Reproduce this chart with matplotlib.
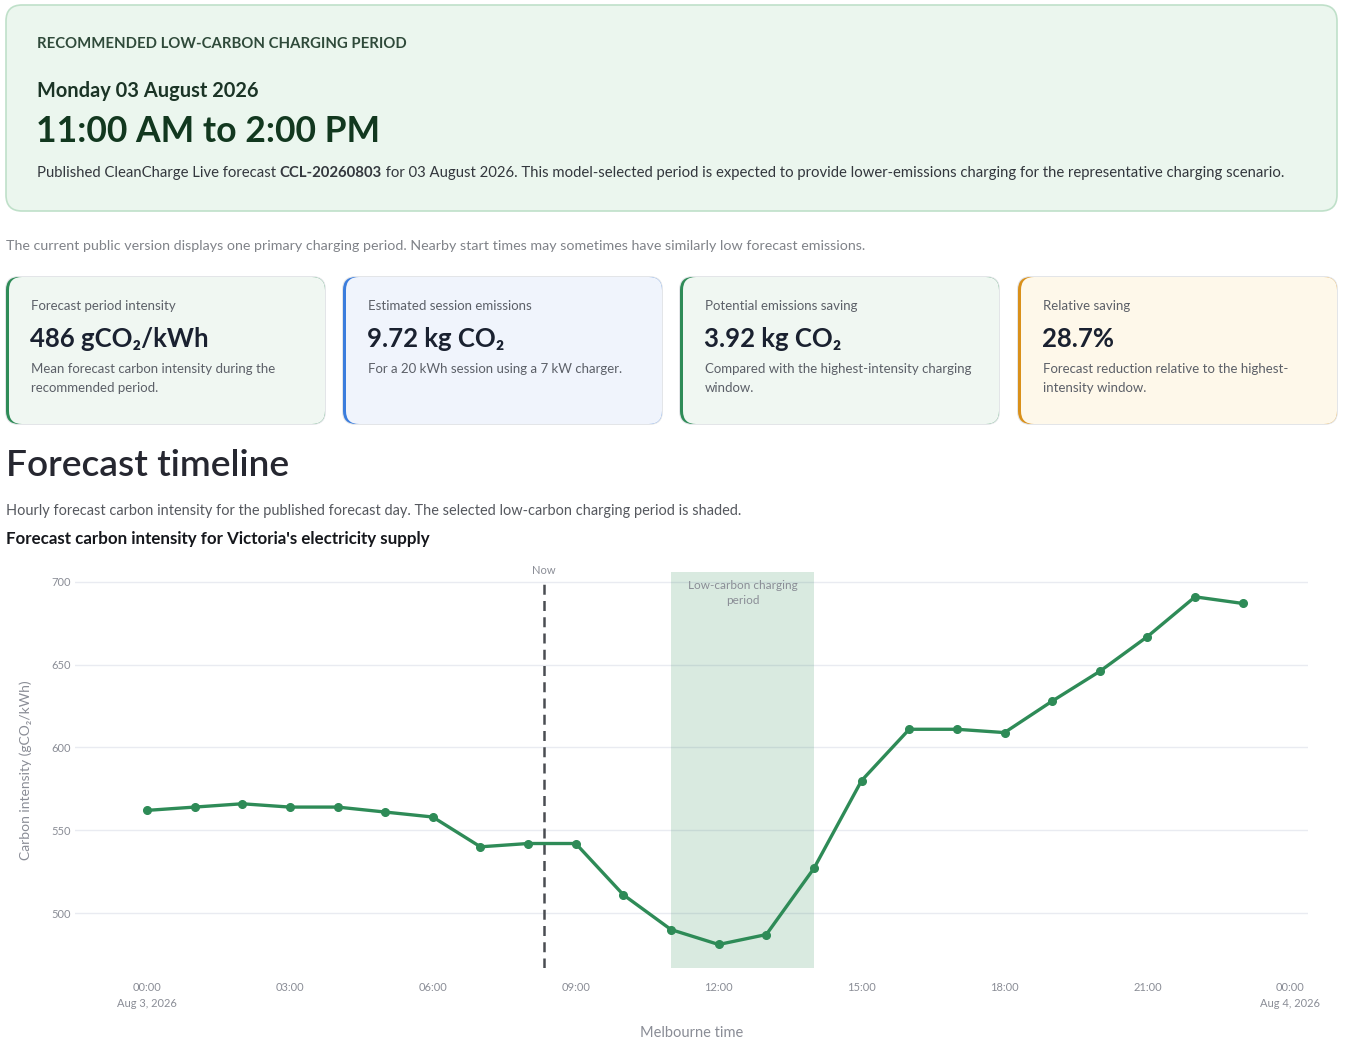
import matplotlib
matplotlib.use("Agg")
import matplotlib.pyplot as plt
from matplotlib.patches import FancyBboxPatch

plt.rcParams['font.family'] = ['Lato', 'DejaVu Sans']

# forecast data (hourly, 03 Aug 2026)
hours = list(range(24))
intensity = [562, 564, 566, 564, 564, 561, 558, 540, 542, 542, 511, 490,
             481, 487, 527, 580, 611, 611, 609, 628, 646, 667, 691, 687]
window_start, window_end = 11, 14
now_hour = 8 + 20 / 60

tick_hours = [0, 3, 6, 9, 12, 15, 18, 21, 24]
tick_labels = ["00:00\nAug 3, 2026", "03:00", "06:00", "09:00", "12:00",
               "15:00", "18:00", "21:00", "00:00\nAug 4, 2026"]
y_ticks = [500, 550, 600, 650, 700]

card_labels = ["Forecast period intensity", "Estimated session emissions",
               "Potential emissions saving", "Relative saving"]
card_values = ["486 gCO₂/kWh", "9.72 kg CO₂", "3.92 kg CO₂", "28.7%"]
card_notes = ["Mean forecast carbon intensity during the\nrecommended period.",
              "For a 20 kWh session using a 7 kW charger.",
              "Compared with the highest-intensity charging\nwindow.",
              "Forecast reduction relative to the highest-\nintensity window."]
card_accent = ["#2e8b57", "#3b7ddd", "#2e8b57", "#d9901a"]
card_fill = ["#f0f7f2", "#f0f4fc", "#f0f7f2", "#fef8ea"]

W, H = 1345, 1043
fig = plt.figure(figsize=(W / 100, H / 100), dpi=100)
fig.patch.set_facecolor("white")

# page layer in pixel coordinates
page = fig.add_axes([0, 0, 1, 1])
page.set_xlim(0, W)
page.set_ylim(H, 0)
page.axis("off")


def rbox(x, y, w, h, fc, ec="none", r=12, lw=1.0):
    p = FancyBboxPatch((x, y), w, h, boxstyle=f"round,pad=0,rounding_size={r}",
                       fc=fc, ec=ec, lw=lw)
    page.add_patch(p)


# top recommendation card
rbox(6, 5, 1331, 206, "#ebf6ee", "#bfe0c9", r=16, lw=1.2)
page.text(37, 44, "RECOMMENDED LOW-CARBON CHARGING PERIOD", fontsize=10.7,
          fontweight="bold", color="#2f4a3a", va="center")
page.text(37, 91, "Monday 03 August 2026", fontsize=14.4, fontweight="bold",
          color="#1b3426", va="center")
page.text(36, 131, "11:00 AM to 2:00 PM", fontsize=25.6, fontweight="bold",
          color="#12381f", va="center")

# published line with bold forecast id
renderer = fig.canvas.get_renderer()
parts = [("Published CleanCharge Live forecast ", "normal"),
         ("CCL-20260803", "bold"),
         (" for 03 August 2026. This model-selected period is expected to provide "
          "lower-emissions charging for the representative charging scenario.", "normal")]
x = 37
for txt, wt in parts:
    t = page.text(x, 173, txt, fontsize=10.7, fontweight=wt, color="#33373d", va="center")
    x += t.get_window_extent(renderer).width

page.text(6, 246, "The current public version displays one primary charging period. "
          "Nearby start times may sometimes have similarly low forecast emissions.",
          fontsize=10.3, color="#808389", va="center")

# metric cards
card_x = [6, 343, 680, 1018]
for i in range(4):
    cx = card_x[i]
    rbox(cx - 1, 276, 321, 149, "#e3e5e8", r=14)
    rbox(cx, 277, 319, 147, card_accent[i], r=13)
    rbox(cx + 3, 277, 316, 147, card_fill[i], r=13)
    page.text(cx + 25, 306, card_labels[i], fontsize=9.5, color="#5c6068", va="center")
    page.text(cx + 24, 339, card_values[i], fontsize=18.5, fontweight="bold",
              color="#1a2130", va="center")
    page.text(cx + 25, 363, card_notes[i], fontsize=9.5, color="#5c6068", va="top",
              linespacing=1.75)

page.text(6, 465, "Forecast timeline", fontsize=26.7, fontweight="semibold",
          color="#262730", va="center")
page.text(6, 511, "Hourly forecast carbon intensity for the published forecast day. "
          "The selected low-carbon charging period is shaded.",
          fontsize=10.47, color="#55585e", va="center")
page.text(6, 539, "Forecast carbon intensity for Victoria's electricity supply",
          fontsize=12.2, fontweight="bold", color="#15171c", va="center")

# chart
ax = fig.add_axes([75 / W, 1 - 968 / H, (1308 - 75) / W, (968 - 572) / H])
ax.set_facecolor("none")
ax.set_xlim(-1.51, 24.37)
ax.set_ylim(466.8, 706)
for s in ax.spines.values():
    s.set_visible(False)
ax.set_yticks(y_ticks)
ax.grid(axis="y", color="#e9ebf1", lw=1)
ax.set_axisbelow(True)
ax.tick_params(length=0, labelsize=8, labelcolor="#8a8d96")
ax.tick_params(axis="x", pad=10)
ax.tick_params(axis="y", pad=3)
ax.set_xticks(tick_hours)
ax.set_xticklabels(tick_labels, linespacing=1.6)

ax.axvspan(window_start, window_end, color="#2e8b57", alpha=0.18, lw=0, zorder=1)
ax.text((window_start + window_end) / 2, 701, "Low-carbon charging\nperiod",
        ha="center", va="top", fontsize=8.5, color="#8a8d96", linespacing=1.4)

ax.axvline(now_hour, color="#4a4d52", lw=1.8, ls=(0, (4, 2.5)), ymax=0.985, zorder=3)
ax.text(now_hour, 707, "Now", ha="center", va="center", fontsize=8, color="#8a8d96",
        clip_on=False)

ax.plot(hours, intensity, color="#2e8b57", lw=2.4, marker="o", ms=5.5, zorder=4)

ax.set_ylabel("Carbon intensity (gCO₂/kWh)", fontsize=10, color="#8a8d96", labelpad=14)
ax.set_xlabel("Melbourne time", fontsize=10.5, color="#8a8d96", labelpad=12)

fig.savefig("out.png", dpi=100, facecolor="white")
